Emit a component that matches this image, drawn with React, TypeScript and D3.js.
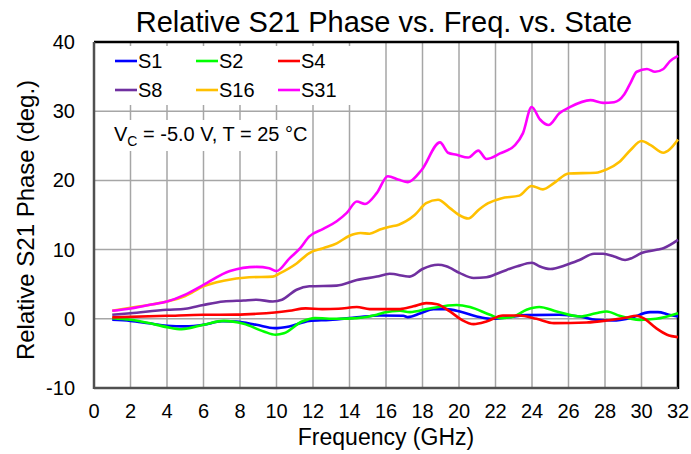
import React, { useEffect, useRef } from 'react';
import * as d3 from 'd3';

// frequency (GHz), relative phase (deg.)
const s1: [number, number][] = [
  [1, -0.14], [2, -0.3], [3, -0.65], [4, -1.0], [5, -1.1], [6, -0.87], [7, -0.35], [7.8, -0.4],
  [8.9, -0.87], [9.9, -1.35], [10.7, -1.1], [11.8, -0.3], [12.9, -0.15], [14.4, 0.2], [15.67, 0.48],
  [16.95, 0.43], [17.2, 0.24], [17.9, 0.8], [18.6, 1.4], [19.3, 1.4], [20.05, 1.06], [20.97, 0.34],
  [21.7, 0.0], [22.6, 0.2], [23.7, 0.53], [25.5, 0.58], [26.6, 0.34], [27.5, -0.14], [28.45, -0.24],
  [29.37, 0.1], [30.47, 0.96], [30.9, 0.96], [31.5, 0.6], [32, 0.34],
];
const s2: [number, number][] = [
  [1, 0.1], [2, -0.14], [3, -0.6], [4, -1.2], [4.8, -1.5], [6, -0.87], [7.1, -0.3], [8.2, -0.72],
  [9.3, -1.83], [9.95, -2.3], [10.4, -2.1], [11.4, -0.4], [12.1, 0.1], [13.3, 0.0], [14.4, 0.1],
  [15.5, 0.58], [15.9, 0.9], [16.77, 1.16], [17.3, 0.96], [18.4, 1.5], [19.87, 2.0], [20.6, 1.7],
  [21.7, 0.58], [22.25, 0.1], [23.0, 0.34], [23.7, 1.3], [24.4, 1.7], [25.35, 1.06], [26.6, 0.34],
  [27.5, 0.8], [28.1, 1.06], [28.8, 0.43], [29.9, -0.15], [30.8, 0.0], [32, 0.8],
];
const s4: [number, number][] = [
  [1, 0.2], [4, 0.43], [6, 0.58], [7.8, 0.6], [8.9, 0.72], [9.9, 0.92], [10.7, 1.16], [11.6, 1.5],
  [12.5, 1.4], [13.4, 1.45], [14.4, 1.7], [15.1, 1.4], [15.67, 1.4], [16.77, 1.4], [17.5, 1.8],
  [18.2, 2.27], [18.8, 2.1], [19.5, 1.06], [20.15, -0.15], [20.8, -0.77], [21.5, -0.4], [22.4, 0.48],
  [23.3, 0.48], [24.25, 0.0], [25.2, -0.63], [27.0, -0.53], [28.1, -0.24], [29.2, 0.2], [29.7, 0.43],
  [30.1, 0.1], [30.8, -1.35], [31.4, -2.3], [32, -2.65],
];
const s8: [number, number][] = [
  [1, 0.58], [2, 0.8], [4, 1.3], [5, 1.45], [6, 2.0], [7.1, 2.5], [8.2, 2.65], [8.9, 2.75], [9.8, 2.5],
  [10.3, 2.75], [11.1, 4.2], [11.8, 4.7], [13.3, 4.8], [14.4, 5.6], [15.5, 6.1], [16.2, 6.5], [17.3, 6.1],
  [18.0, 7.2], [18.85, 7.8], [19.3, 7.6], [20.05, 6.6], [20.8, 5.9], [21.5, 6.0], [22.25, 6.7],
  [23.2, 7.6], [24.0, 8.1], [24.4, 7.6], [25.0, 7.2], [25.9, 7.8], [26.6, 8.5], [27.4, 9.4], [27.9, 9.4],
  [28.5, 9.0], [29.1, 8.5], [29.5, 8.8], [30.0, 9.5], [30.9, 10.0], [31.2, 10.2], [32, 11.4],
];
const s16: [number, number][] = [
  [1, 1.16], [2, 1.6], [3, 2.0], [4, 2.5], [5, 3.3], [6, 4.7], [7.1, 5.5], [8.5, 6.0], [9.8, 6.1],
  [10.2, 6.6], [11.1, 8.0], [11.8, 9.5], [12.56, 10.2], [13.3, 10.9], [14.0, 12.0], [14.6, 12.4],
  [15.1, 12.3], [15.67, 12.9], [16.2, 13.3], [16.7, 13.6], [17.1, 14.1], [17.57, 15.0], [18.2, 16.7],
  [18.85, 17.2], [19.5, 16.0], [20.0, 15.0], [20.5, 14.5], [21.1, 15.8], [21.6, 16.7], [22.3, 17.4],
  [23.3, 17.8], [23.98, 19.2], [24.6, 18.7], [25.2, 19.6], [26.0, 21.0], [27.5, 21.1], [28.1, 21.6],
  [28.8, 22.7], [29.4, 24.4], [30.0, 25.7], [30.5, 25.1], [31.2, 24.0], [31.55, 24.5], [32, 25.9],
];
const s31: [number, number][] = [
  [1, 1.16], [2, 1.5], [3, 2.0], [4, 2.5], [5, 3.5], [6, 4.9], [7.45, 6.9], [8.9, 7.5], [9.6, 7.3],
  [10.0, 6.9], [10.7, 8.7], [11.3, 10.2], [11.8, 11.9], [12.56, 13.0], [13.3, 14.1], [13.85, 15.3],
  [14.4, 16.95], [14.85, 16.6], [15.5, 18.2], [16.1, 20.6], [16.7, 20.1], [17.2, 19.75], [17.95, 21.5],
  [18.96, 25.5], [19.4, 24.0], [19.87, 23.7], [20.5, 23.3], [21.06, 24.3], [21.5, 23.1], [22.25, 23.9],
  [23.07, 25.1], [23.5, 26.8], [23.98, 30.6], [24.44, 28.8], [24.9, 28.0], [25.5, 29.7], [26.08, 30.6],
  [27.2, 31.6], [27.9, 31.2], [28.5, 31.3], [29.05, 32.4], [29.4, 34.1], [29.74, 35.7], [30.3, 36.1],
  [30.74, 35.7], [31.2, 36.1], [31.55, 37.2], [32, 38.0],
];

const seriesNames = ['S1', 'S2', 'S4', 'S8', 'S16', 'S31'];
const seriesData = [s1, s2, s4, s8, s16, s31];
const seriesColors = ['#0000ff', '#00ff00', '#ff0000', '#7030a0', '#ffc000', '#ff00ff'];

const xTicks = d3.range(0, 33, 2);
const yTicks = [-10, 0, 10, 20, 30, 40];

const FONT = '"Liberation Sans", Arial, sans-serif';

const App = () => {
  const ref = useRef<SVGSVGElement>(null);

  useEffect(() => {
    const svg = d3.select(ref.current);
    svg.selectAll('*').remove();

    const left = 94, right = 678, top = 42, bottom = 388;
    const x = d3.scaleLinear().domain([0, 32]).range([left, right]);
    const y = d3.scaleLinear().domain([-10, 40]).range([bottom, top]);

    svg.append('rect').attr('width', 691).attr('height', 454).attr('fill', '#fff');

    // grid
    const grid = svg.append('g').attr('stroke', '#a6a6a6').attr('stroke-width', 1.5);
    xTicks.forEach(t => {
      grid.append('line').attr('x1', x(t)).attr('x2', x(t)).attr('y1', top).attr('y2', bottom);
    });
    yTicks.forEach(t => {
      grid.append('line').attr('x1', left).attr('x2', right).attr('y1', y(t)).attr('y2', y(t));
    });

    // legend and note boxes hide the grid behind them
    svg.append('rect').attr('x', left + 1).attr('y', 46).attr('width', 384 - left).attr('height', 59).attr('fill', '#fff');
    svg.append('rect').attr('x', left + 1).attr('y', 120).attr('width', 308 - left).attr('height', 31).attr('fill', '#fff');

    // frame
    svg.append('line').attr('x1', left).attr('x2', right + 1).attr('y1', top).attr('y2', top).attr('stroke', '#000').attr('stroke-width', 2.5);
    svg.append('line').attr('x1', right).attr('x2', right).attr('y1', top).attr('y2', bottom + 1).attr('stroke', '#000').attr('stroke-width', 2.5);
    svg.append('line').attr('x1', left).attr('x2', left).attr('y1', top).attr('y2', bottom + 1).attr('stroke', '#505050').attr('stroke-width', 2.5);
    svg.append('line').attr('x1', left).attr('x2', right).attr('y1', bottom).attr('y2', bottom).attr('stroke', '#505050').attr('stroke-width', 2.5);

    // curves
    const line = d3.line<[number, number]>()
      .x(d => x(d[0]))
      .y(d => y(d[1]))
      .curve(d3.curveMonotoneX);

    seriesData.forEach((s, i) => {
      svg.append('path')
        .datum(s)
        .attr('fill', 'none')
        .attr('stroke', seriesColors[i])
        .attr('stroke-width', 2.6)
        .attr('stroke-linejoin', 'round')
        .attr('d', line);
    });

    // tick labels
    const tx = svg.append('g').attr('font-family', FONT).attr('font-size', 20).attr('fill', '#000');
    xTicks.forEach(t => {
      tx.append('text').attr('x', x(t)).attr('y', 418).attr('text-anchor', 'middle').text(t);
    });
    yTicks.forEach(t => {
      tx.append('text').attr('x', 75).attr('y', y(t)).attr('dy', '0.35em').attr('text-anchor', 'end').text(t);
    });

    // titles
    svg.append('text').attr('x', 384).attr('y', 31.5).attr('text-anchor', 'middle')
      .attr('font-family', FONT).attr('font-size', 29).text('Relative S21 Phase vs. Freq. vs. State');
    svg.append('text').attr('x', 386).attr('y', 445).attr('text-anchor', 'middle')
      .attr('font-family', FONT).attr('font-size', 23).text('Frequency (GHz)');
    svg.append('text').attr('transform', 'translate(34,220) rotate(-90)').attr('text-anchor', 'middle')
      .attr('font-family', FONT).attr('font-size', 24).text('Relative S21 Phase (deg.)');

    // legend
    const legendX = [115, 196, 278];
    const legendY = [61, 90];
    seriesNames.forEach((name, i) => {
      const lx = legendX[i % 3];
      const ly = legendY[Math.floor(i / 3)];
      svg.append('line').attr('x1', lx).attr('x2', lx + 22).attr('y1', ly).attr('y2', ly)
        .attr('stroke', seriesColors[i]).attr('stroke-width', 2.6);
      svg.append('text').attr('x', lx + 23).attr('y', ly + 6.5)
        .attr('font-family', FONT).attr('font-size', 20).text(name);
    });

    // note
    const note = svg.append('text').attr('x', 114).attr('y', 141)
      .attr('font-family', FONT).attr('font-size', 20);
    note.append('tspan').text('V');
    note.append('tspan').attr('font-size', 14).attr('dy', 5).text('C');
    note.append('tspan').attr('dy', -5).text(' = -5.0 V, T = 25 °C');
  }, []);

  return (
    <svg ref={ref} width={691} height={454} style={{ position: 'absolute', left: 0, top: 0 }} />
  );
};

export default App;
